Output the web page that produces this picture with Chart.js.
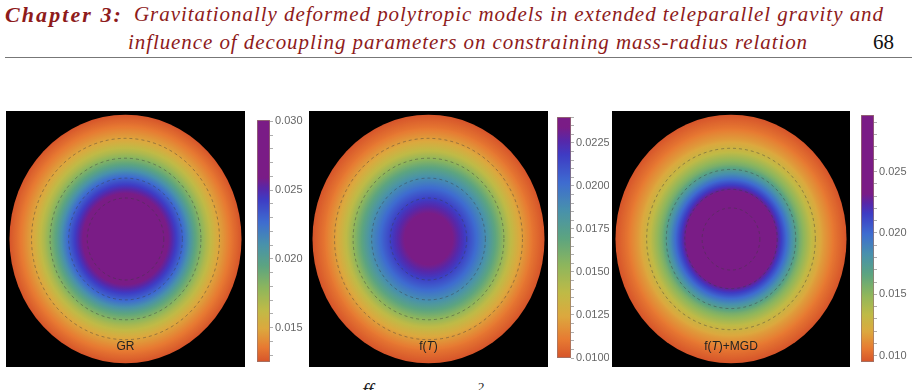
<!DOCTYPE html>
<html>
<head>
<meta charset="utf-8">
<script src="https://cdn.jsdelivr.net/npm/chart.js@4.4.0/dist/chart.umd.min.js"></script>
<style>
  body { margin: 0; background: #fff; width: 916px; height: 390px; overflow: hidden; position: relative; }
  .hd { position: absolute; white-space: nowrap; font-family: "Liberation Serif", serif; font-size: 21px; line-height: 21px; color: #8e1b1b; font-style: italic; }
  .rule { position: absolute; left: 5px; top: 57px; width: 907px; height: 1px; background: #777; }
  .frag { position: absolute; font-family: "Liberation Serif", serif; color: #222; line-height: 1; }
  canvas { position: absolute; }
</style>
</head>
<body>
<div class="hd" id="h0" style="left:5px;top:4px;font-weight:bold;font-size:22px">Chapter 3:</div>
<div class="hd" id="h1" style="left:134px;top:4px">Gravitationally deformed polytropic models in extended teleparallel gravity and</div>
<div class="hd" id="h2" style="left:128px;top:32px">influence of decoupling parameters on constraining mass-radius relation</div>
<div class="hd" id="h3" style="left:873px;top:32px;font-style:normal;color:#111">68</div>
<div class="rule"></div>
<div class="frag" style="left:362px;top:381px;font-size:20px;font-style:italic">ff</div>
<div class="frag" style="left:478px;top:380px;font-size:13px">2</div>

<canvas id="disk1" width="239" height="256" style="left:6px;top:111px"></canvas>
<canvas id="bar1" width="52" height="262" style="left:257px;top:110px"></canvas>
<canvas id="disk2" width="239" height="256" style="left:309px;top:111px"></canvas>
<canvas id="bar2" width="52" height="261" style="left:557px;top:107px"></canvas>
<canvas id="disk3" width="238" height="256" style="left:612px;top:111px"></canvas>
<canvas id="bar3" width="52" height="267" style="left:861px;top:105px"></canvas>

<script>
// radial profile (normalised radius) and density
const radius = [0, 0.1, 0.2, 0.3, 0.4, 0.5, 0.6, 0.7, 0.8, 0.9, 1.0];
const densityGR  = [0.0301, 0.0298, 0.0290, 0.0273, 0.0252, 0.0227, 0.0195, 0.0169, 0.0149, 0.0136, 0.0125];
const densityFT  = [0.0240, 0.0239, 0.0235, 0.0221, 0.0204, 0.0186, 0.0164, 0.0140, 0.0122, 0.0109, 0.0100];
const densityMGD = [0.0296, 0.0293, 0.0284, 0.0264, 0.0228, 0.0192, 0.0157, 0.0133, 0.0116, 0.0104, 0.0095];

// dashed contour radii
const contoursGR  = [0.33, 0.49, 0.65, 0.81];
const contoursFT  = [0.33, 0.49, 0.65, 0.81];
const contoursMGD = [0.25, 0.40, 0.56, 0.73];

// colour bar ranges [min, max], value where the rainbow tops out, tick steps
const barGR  = [0.0125, 0.0301];
const barFT  = [0.0100, 0.0240];
const barMGD = [0.0095, 0.0296];
const capGR = 0.0259, capFT = 0.0234, capMGD = 0.0232;
const majorGR = 0.005, majorFT = 0.0025, majorMGD = 0.005;
const minorGR = 0.001, minorFT = 0.0005, minorMGD = 0.001;

const panelLabels = [
  [['GR', false]],
  [['f(', false], ['T', true], [')', false]],
  [['f(', false], ['T', true], [')+MGD', false]]
];

// rainbow colour function (bottom -> top)
const rainbow = [
  [0.00, [214, 84, 42]],
  [0.08, [231, 122, 50]],
  [0.18, [220, 168, 62]],
  [0.28, [192, 186, 70]],
  [0.40, [142, 182, 92]],
  [0.52, [92, 164, 128]],
  [0.64, [72, 145, 172]],
  [0.76, [62, 108, 208]],
  [0.88, [62, 60, 196]],
  [0.94, [86, 40, 170]],
  [1.00, [122, 28, 134]]
];

function colorFn(lo, cap) {
  return function (v) {
    let t = (v - lo) / (cap - lo);
    t = Math.max(0, Math.min(1, t));
    for (let i = 1; i < rainbow.length; i++) {
      if (t <= rainbow[i][0]) {
        const a = rainbow[i - 1], b = rainbow[i];
        const f = (t - a[0]) / (b[0] - a[0]);
        const c = a[1].map((x, k) => Math.round(x + (b[1][k] - x) * f));
        return 'rgb(' + c.join(',') + ')';
      }
    }
    return 'rgb(' + rainbow[rainbow.length - 1][1].join(',') + ')';
  };
}

function profileAt(data, r) {
  for (let i = 1; i < data.length; i++) {
    if (r <= data[i].x) {
      const a = data[i - 1], b = data[i];
      return a.v + (b.v - a.v) * (r - a.x) / (b.x - a.x);
    }
  }
  return data[data.length - 1].v;
}

const diskPlugin = {
  id: 'disk',
  beforeDatasetsDraw(chart, args, opts) {
    const { ctx, chartArea: a, scales: { x, y } } = chart;
    const pts = chart.data.datasets[0].data;
    ctx.save();
    ctx.fillStyle = '#000';
    ctx.fillRect(a.left, a.top, a.width, a.height);
    const cx = x.getPixelForValue(0), cy = y.getPixelForValue(0);
    const rx = x.getPixelForValue(1) - cx, ry = cy - y.getPixelForValue(1);
    ctx.translate(cx, cy);
    ctx.scale(1, ry / rx);
    const g = ctx.createRadialGradient(0, 0, 0, 0, 0, rx);
    for (let i = 0; i <= 200; i++) {
      const r = i / 200;
      g.addColorStop(r, opts.color(profileAt(pts, r)));
    }
    ctx.fillStyle = g;
    ctx.beginPath();
    ctx.arc(0, 0, rx, 0, Math.PI * 2);
    ctx.fill();
    ctx.restore();

    ctx.save();
    ctx.setLineDash([3, 3]);
    ctx.strokeStyle = 'rgba(60,60,60,0.55)';
    ctx.lineWidth = 0.8;
    opts.contours.forEach(r => {
      ctx.beginPath();
      ctx.ellipse(cx, cy, r * rx, r * ry, 0, 0, Math.PI * 2);
      ctx.stroke();
    });
    ctx.restore();

    // label near the bottom of the disk
    ctx.save();
    ctx.fillStyle = '#222';
    ctx.textBaseline = 'middle';
    const fonts = it => (it ? 'italic ' : '') + '12px "Liberation Sans", Arial, sans-serif';
    let w = 0;
    opts.label.forEach(p => { ctx.font = fonts(p[1]); w += ctx.measureText(p[0]).width; });
    let lx = cx - w / 2;
    const ly = y.getPixelForValue(-0.865);
    opts.label.forEach(p => {
      ctx.font = fonts(p[1]);
      ctx.fillText(p[0], lx, ly);
      lx += ctx.measureText(p[0]).width;
    });
    ctx.restore();
  }
};

function makeDisk(id, density, contours, lo, cap, label) {
  new Chart(document.getElementById(id), {
    type: 'scatter',
    data: {
      datasets: [{
        data: radius.map((r, i) => ({ x: r, y: 0, v: density[i] })),
        pointRadius: 0,
        showLine: false
      }]
    },
    options: {
      responsive: false,
      animation: false,
      devicePixelRatio: 1,
      layout: { padding: 0 },
      scales: {
        x: { type: 'linear', min: -1.03, max: 1.03, display: false },
        y: { type: 'linear', min: -1.03, max: 1.03, display: false }
      },
      plugins: {
        legend: { display: false },
        tooltip: { enabled: false },
        disk: { color: colorFn(lo, cap), contours: contours, label: label }
      }
    },
    plugins: [diskPlugin]
  });
}

function makeBar(id, range, cap, major, minor, decimals, barWidth) {
  const color = colorFn(range[0], cap);
  new Chart(document.getElementById(id), {
    type: 'bar',
    data: {
      labels: ['c'],
      datasets: [{
        data: [range],
        barPercentage: 1,
        categoryPercentage: 1,
        borderWidth: 1,
        borderColor: 'rgba(110,60,50,0.7)',
        borderSkipped: false,
        backgroundColor: (c) => {
          const ch = c.chart;
          if (!ch.chartArea) return null;
          const ys = ch.scales.y;
          const y0 = ys.getPixelForValue(range[0]), y1 = ys.getPixelForValue(range[1]);
          const g = ch.ctx.createLinearGradient(0, y0, 0, y1);
          for (let i = 0; i <= 100; i++) {
            const v = range[0] + (range[1] - range[0]) * i / 100;
            g.addColorStop(i / 100, color(v));
          }
          return g;
        }
      }]
    },
    options: {
      responsive: false,
      animation: false,
      devicePixelRatio: 1,
      layout: { padding: { top: 10, bottom: 10, left: 0, right: 0 } },
      scales: {
        x: { display: false },
        y: {
          position: 'right',
          min: range[0],
          max: range[1],
          afterFit: s => { s.width = 52 - barWidth; },
          border: { display: false },
          grid: { drawOnChartArea: false, drawTicks: true, tickLength: 3, color: '#999', lineWidth: 0.8 },
          ticks: {
            stepSize: minor,
            autoSkip: false,
            includeBounds: false,
            padding: 2,
            color: '#666',
            font: { family: '"Liberation Sans", Arial, sans-serif', size: 11 },
            callback: v => {
              const q = v / major;
              return Math.abs(q - Math.round(q)) < 1e-6 ? v.toFixed(decimals) : '';
            }
          }
        }
      },
      plugins: { legend: { display: false }, tooltip: { enabled: false } }
    }
  });
}

makeDisk('disk1', densityGR, contoursGR, barGR[0], capGR, panelLabels[0]);
makeDisk('disk2', densityFT, contoursFT, barFT[0], capFT, panelLabels[1]);
makeDisk('disk3', densityMGD, contoursMGD, barMGD[0], capMGD, panelLabels[2]);
makeBar('bar1', barGR, capGR, majorGR, minorGR, 3, 13);
makeBar('bar2', barFT, capFT, majorFT, minorFT, 4, 14);
makeBar('bar3', barMGD, capMGD, majorMGD, minorMGD, 3, 13);

// stretch header lines to the widths seen in the page
function fit(id, w) {
  const el = document.getElementById(id);
  const nat = el.getBoundingClientRect().width;
  el.style.letterSpacing = ((w - nat) / el.textContent.length) + 'px';
}
fit('h0', 118);
fit('h1', 750);
fit('h2', 680);
</script>
</body>
</html>
